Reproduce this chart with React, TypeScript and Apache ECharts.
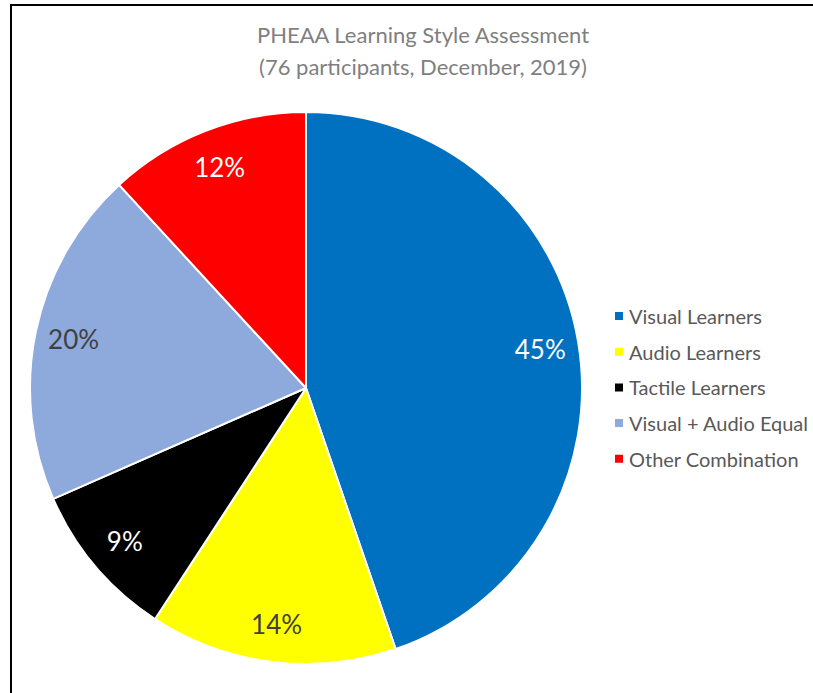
import React, { useEffect, useRef } from "react";
import * as echarts from "echarts";

const titleLines = ["PHEAA Learning Style Assessment", "(76 participants, December, 2019)"];
const categories = ["Visual Learners", "Audio Learners", "Tactile Learners", "Visual + Audio Equal", "Other Combination"];
const counts = [34, 11, 7, 15, 9];
const percentLabels = ["45%", "14%", "9%", "20%", "12%"];
const colors = ["#0070C0", "#FFFF00", "#000000", "#8EA9DB", "#FF0000"];
const labelColors = ["#ffffff", "#404040", "#ffffff", "#404040", "#ffffff"];

const FONT = "Lato, 'Open Sans', sans-serif";

export default function App() {
  const ref = useRef<HTMLDivElement>(null);
  useEffect(() => {
    if (!ref.current) return;
    const chart = echarts.init(ref.current, null, { renderer: "svg" });
    const R = 276;
    const labelR = Math.round(R * 0.85 * 2);
    chart.setOption({
      animation: false,
      backgroundColor: "#ffffff",
      title: {
        text: titleLines.join("\n"),
        left: 418,
        top: 13,
        textAlign: "center",
        textStyle: {
          fontFamily: FONT,
          fontSize: 22,
          fontWeight: "normal",
          color: "#7f7f7f",
          lineHeight: 32,
        },
      },
      legend: {
        orient: "vertical",
        left: 608,
        top: 300,
        icon: "rect",
        itemWidth: 10,
        itemHeight: 10,
        itemGap: 13.7,
        data: categories,
        textStyle: {
          fontFamily: FONT,
          fontSize: 20,
          color: "#595959",
          lineHeight: 22,
        },
        selectedMode: false,
      },
      graphic: [
        {
          type: "rect",
          shape: { x: 11, y: 5, width: 1000, height: 1000 },
          style: { fill: "none", stroke: "#000", lineWidth: 2 },
          silent: true,
          z: 100,
        },
      ],
      series: [
        {
          type: "pie",
          center: [306, 388],
          radius: [0, R],
          startAngle: 90,
          clockwise: true,
          label: { show: false },
          labelLine: { show: false },
          itemStyle: { borderColor: "#ffffff", borderWidth: 2 },
          emphasis: { disabled: true },
          data: categories.map((name, i) => ({
            name,
            value: counts[i],
            itemStyle: { color: colors[i] },
          })),
        },
        {
          type: "pie",
          center: [306, 388],
          radius: [0, labelR],
          startAngle: 90,
          clockwise: true,
          silent: true,
          z: 5,
          itemStyle: { color: "rgba(0,0,0,0)", borderWidth: 0 },
          labelLine: { show: false },
          emphasis: { disabled: true },
          data: categories.map((name, i) => ({
            name,
            value: counts[i],
            label: {
              show: true,
              position: "inside",
              formatter: percentLabels[i],
              fontFamily: FONT,
              fontSize: 26,
              color: labelColors[i],
            },
          })),
        },
      ],
    });
    return () => chart.dispose();
  }, []);
  return (
    <div
      ref={ref}
      style={{ position: "fixed", left: 0, top: 0, width: 813, height: 693 }}
    />
  );
}
